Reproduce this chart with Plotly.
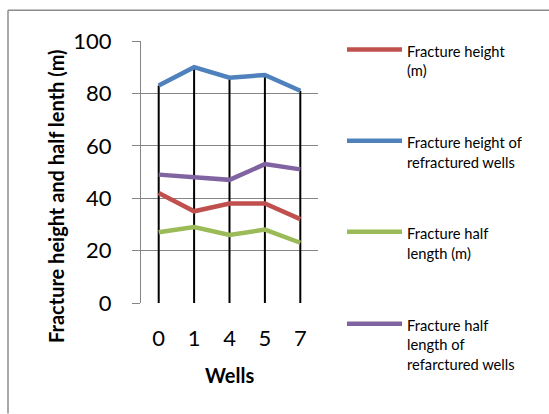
import plotly.graph_objects as go

wells = ["0", "1", "4", "5", "7"]
frac_height = [42, 35, 38, 38, 32]
frac_height_refrac = [83, 90, 86, 87, 81]
half_length = [27, 29, 26, 28, 23]
half_length_refrac = [49, 48, 47, 53, 51]

series = [
    ("Fracture height (m)", frac_height, "#C0504D", ["Fracture height", "(m)"]),
    ("Fracture height of refractured wells", frac_height_refrac, "#4F81BD", ["Fracture height of", "refractured wells"]),
    ("Fracture half length (m)", half_length, "#9BBB59", ["Fracture half", "length (m)"]),
    ("Fracture half length of refarctured wells", half_length_refrac, "#8064A2", ["Fracture half", "length of", "refarctured wells"]),
]

W, H = 549, 414
L, R, T, B = 141, 318, 40.7, 303.3
FONT = "Lato"

def px(x):
    return (x - L) / (R - L)

def py(y):
    return (B - y) / (B - T)

fig = go.Figure()

# drop lines from the highest value to the axis
tops = [max(v) for v in zip(frac_height, frac_height_refrac, half_length, half_length_refrac)]
dx, dy = [], []
for w, t in zip(wells, tops):
    dx += [w, w, None]
    dy += [0, t, None]
fig.add_trace(go.Scatter(x=dx, y=dy, mode="lines", line=dict(color="black", width=2),
                         showlegend=False, hoverinfo="skip"))

for name, vals, color, _ in series:
    fig.add_trace(go.Scatter(x=wells, y=vals, mode="lines", name=name,
                             line=dict(color=color, width=4.5), showlegend=False))

shapes = []
annotations = []
# outer border (top and left edges)
shapes.append(dict(type="line", xref="paper", yref="paper", x0=px(8), x1=px(549), y0=py(10), y1=py(10),
                   line=dict(color="#8C8C8C", width=1.5)))
shapes.append(dict(type="line", xref="paper", yref="paper", x0=px(8), x1=px(8), y0=py(10), y1=py(414),
                   line=dict(color="#8C8C8C", width=1.5)))

# custom legend
entry_y = [49.3, 140.7, 232, 324]
for (name, vals, color, lines), ey in zip(series, entry_y):
    shapes.append(dict(type="line", xref="paper", yref="paper", x0=px(347), x1=px(402), y0=py(ey), y1=py(ey),
                       line=dict(color=color, width=4.5)))
    for i, txt in enumerate(lines):
        annotations.append(dict(text=txt, xref="paper", yref="paper", x=px(405), y=py(ey + 1 + i * 19.8),
                                xanchor="left", yanchor="middle", showarrow=False,
                                font=dict(family=FONT, size=14.7, color="black")))

annotations.append(dict(text="<b>Wells</b>", xref="paper", yref="paper", x=px(229), y=py(375),
                        xanchor="center", yanchor="middle", showarrow=False,
                        font=dict(family=FONT, size=20, color="black")))
annotations.append(dict(text="<b>Fracture height and half lenth (m)</b>", xref="paper", yref="paper",
                        x=px(56), y=py(197), xanchor="center", yanchor="middle", textangle=-90,
                        showarrow=False, font=dict(family=FONT, size=20, color="black")))

fig.update_layout(
    width=W, height=H,
    margin=dict(l=L, r=W - R, t=T, b=H - B, pad=0),
    paper_bgcolor="white", plot_bgcolor="white",
    shapes=shapes, annotations=annotations,
    showlegend=False,
    xaxis=dict(type="category", range=[-0.5, 4.5], showgrid=False, zeroline=False, showline=False, ticks="",
               tickfont=dict(family=FONT, size=22, color="black"), ticklabelstandoff=20),
    yaxis=dict(range=[0, 100], tickvals=[0, 20, 40, 60, 80, 100], showgrid=True, gridcolor="#868686",
               gridwidth=1, zeroline=False, showline=True, linecolor="#868686", linewidth=1,
               ticks="outside", ticklen=8, tickcolor="#868686", tickwidth=1,
               tickfont=dict(family=FONT, size=22, color="black"), ticklabelstandoff=16),
)

fig.write_html("out.html")
